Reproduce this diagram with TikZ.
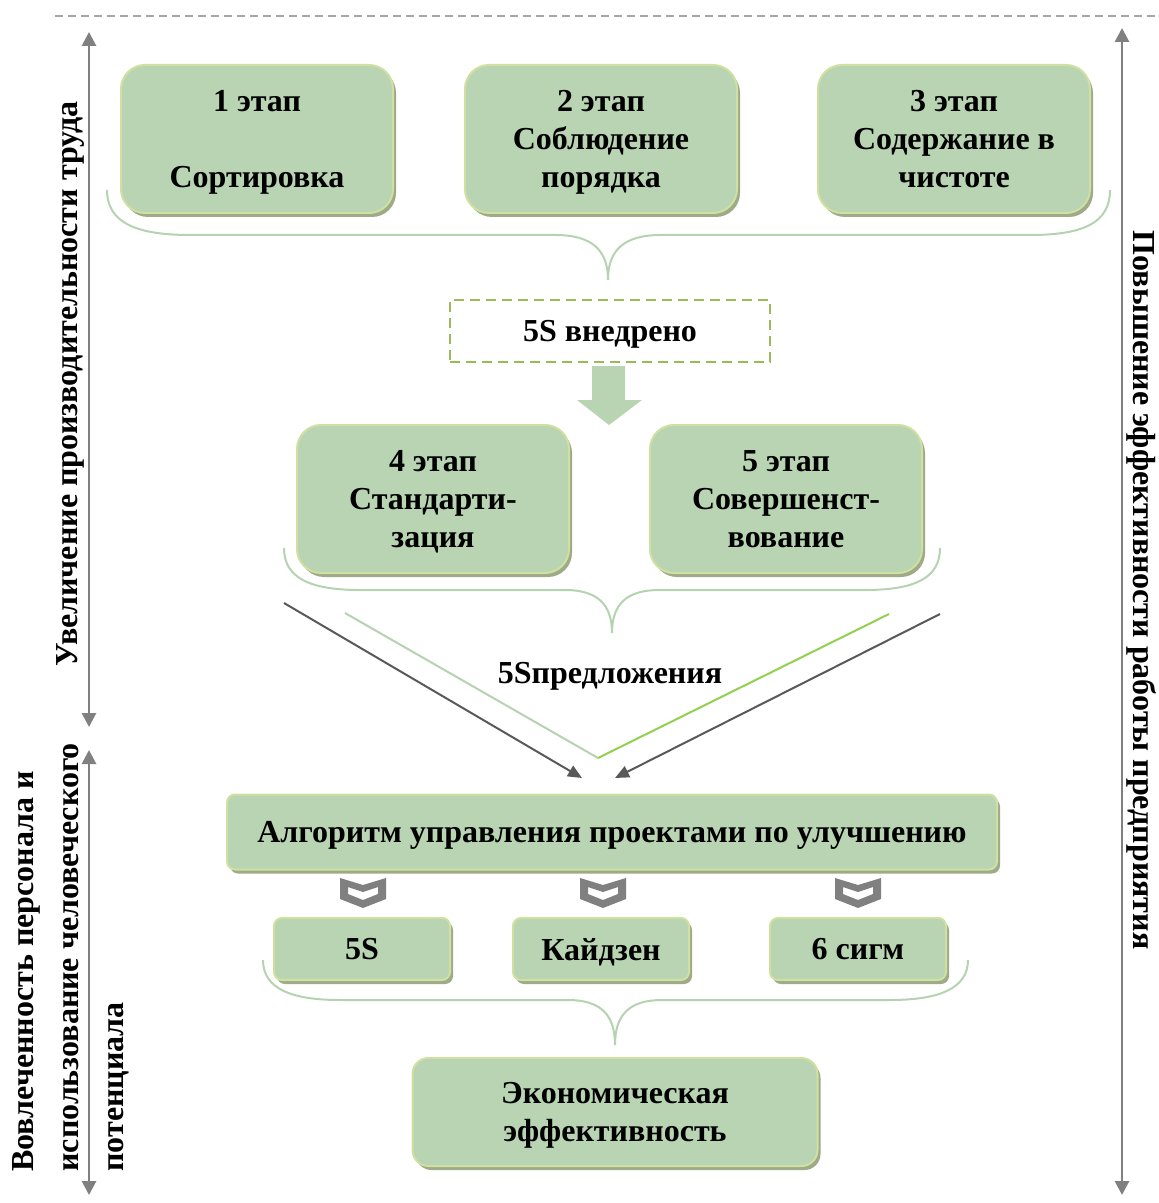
\documentclass[tikz,border=0pt]{standalone}
\usepackage{fontspec}
\setmainfont{Liberation Serif}
\usepackage{xcolor}
\usepackage{tikz}
\usetikzlibrary{arrows.meta,shadows}

\definecolor{stagefill}{RGB}{184,212,179}
\definecolor{stageline}{RGB}{208,224,160}
\definecolor{stageshadow}{RGB}{158,170,136}
\definecolor{bracegreen}{RGB}{181,211,176}
\definecolor{dashgreen}{RGB}{155,187,89}
\definecolor{axisgray}{RGB}{128,128,128}
\definecolor{darkarrow}{RGB}{89,89,89}
\definecolor{brightgreen}{RGB}{146,208,80}

\tikzset{
  stage/.style={draw=stageline, line width=1pt, fill=stagefill, align=center, text depth=0pt,
    drop shadow={shadow xshift=1.5pt, shadow yshift=-2pt, fill=stageshadow, opacity=1}},
  bigstage/.style={stage, rounded corners=12pt, minimum width=136pt, minimum height=74pt},
  smallstage/.style={stage, rounded corners=4pt, minimum width=88pt, minimum height=31pt},
  bracket/.style={draw=bracegreen, line width=1pt},
  axis/.style={draw=axisgray, line width=1.4pt, {Triangle[length=7pt,width=7pt]}-{Triangle[length=7pt,width=7pt]}},
  feed/.style={draw=darkarrow, line width=1pt, -{Triangle[length=7pt,width=6pt]}},
  chevron/.style={fill=axisgray, even odd rule}
}

\begin{document}
\begin{tikzpicture}[x=0.5pt,y=0.5pt,yscale=-1,xscale=1,font=\fontsize{16}{19}\selectfont\bfseries]
\useasboundingbox (0,0) rectangle (1158,1203);

%Straight Lines: top rule
\draw [draw=axisgray!70, line width=0.6pt, dash pattern=on 4pt off 2.5pt] (55,16) -- (1158,16);

%Axes
\coordinate (ltop) at (89,32);
\coordinate (lbot) at (89,727);
\coordinate (ltop2) at (89,750);
\coordinate (lbot2) at (89,1195);
\coordinate (rtop) at (1122,28);
\coordinate (rbot) at (1122,1195);
\draw [axis] (ltop) -- (lbot);
\draw [axis] (ltop2) -- (lbot2);
\draw [axis] (rtop) -- (rbot);

% Text Node
\node [rotate=90] (growth) at (70,384) {Увеличение производительности труда};
% Text Node
\node [rotate=90, anchor=north west, align=left, inner sep=0pt, font=\fontsize{16}{22.5}\selectfont\bfseries] (staff) at (12,1172) {Вовлеченность персонала и\\использование человеческого\\потенциала};
% Text Node
\node [rotate=-90] (effect) at (1142,590) {Повышение эффективности работы предприятия};

%Shape: Rounded Rectangles, stages 1-3
\node [bigstage] (st1) at (257,139) {1 этап\\[19pt]Сортировка};
\node [bigstage] (st2) at (601,139) {2 этап\\Соблюдение\\порядка};
\node [bigstage] (st3) at (954,139) {3 этап\\Содержание в\\чистоте};

%Shape: Brace
\draw [bracket] (107,190) .. controls (107,222) and (135,235) .. (190,235) -- (555,235) .. controls (592,235) and (608,250) .. (608,280) .. controls (608,250) and (624,235) .. (661,235) -- (1030,235) .. controls (1085,235) and (1110,222) .. (1110,190);

%Shape: Dashed Rectangle
\node [draw=dashgreen, line width=1.2pt, dash pattern=on 5pt off 3pt, text depth=0pt, minimum width=160pt, minimum height=31pt] (done) at (610,331) {5S внедрено};

%Shape: Down Arrow
\coordinate (tip) at (609,425);
\fill [stagefill] (592,366) -- (625,366) -- (625,400) -- (642,400) -- (tip) -- (577,400) -- (592,400) -- cycle;

%Shape: Rounded Rectangles, stages 4-5
\node [bigstage] (st4) at (433,499) {4 этап\\Стандарти-\\зация};
\node [bigstage] (st5) at (786,499) {5 этап\\Совершенст-\\вование};

%Shape: Brace
\draw [bracket] (284,548) .. controls (284,578) and (310,590) .. (360,590) -- (565,590) .. controls (598,590) and (612,605) .. (612,633) .. controls (612,605) and (626,590) .. (659,590) -- (865,590) .. controls (915,590) and (940,578) .. (940,548);

%Straight Lines: V
\coordinate (vl) at (345,613);
\coordinate (vb) at (598,758);
\coordinate (vr) at (889,614);
\draw [draw=bracegreen, line width=1pt] (vl) -- (vb);
\draw [draw=brightgreen, line width=1pt] (vb) -- (vr);

%Straight Lines: arrows into algorithm
\coordinate (fl) at (284,603);
\coordinate (flend) at (582,778);
\coordinate (fr) at (940,614);
\coordinate (frend) at (615,778);
\draw [feed] (fl) -- (flend);
\draw [feed] (fr) -- (frend);

% Text Node
\node [text depth=0pt] (offers) at (610,673) {5Sпредложения};

%Shape: Rounded Rectangle
\node [stage, rounded corners=4pt, minimum width=385pt, minimum height=37.5pt] (algo) at (612,832) {Алгоритм управления проектами по улучшению};

%Shape: Chevrons
\foreach \cx in {363,603,858} {
  \fill [chevron] (\cx-23,878) -- (\cx,885) -- (\cx+23,878) -- (\cx+23,899) -- (\cx,908) -- (\cx-23,899) -- cycle
    (\cx-15,887) -- (\cx,892) -- (\cx+15,887) -- (\cx+15,894) -- (\cx,900) -- (\cx-15,894) -- cycle;
}

%Shape: Rounded Rectangles, methods
\node [smallstage] (m5s) at (362,949) {5S};
\node [smallstage] (kaizen) at (601,949) {Кайдзен};
\node [smallstage] (sigma) at (858,949) {6 сигм};

%Shape: Brace
\draw [bracket] (263,960) .. controls (263,988) and (290,1000) .. (340,1000) -- (568,1000) .. controls (601,1000) and (615,1015) .. (615,1045) .. controls (615,1015) and (629,1000) .. (662,1000) -- (890,1000) .. controls (940,1000) and (968,988) .. (968,960);

%Shape: Rounded Rectangle
\node [stage, rounded corners=8pt, minimum width=202.5pt, minimum height=54pt] (econ) at (615,1112) {Экономическая\\эффективность};

\end{tikzpicture}
\end{document}
